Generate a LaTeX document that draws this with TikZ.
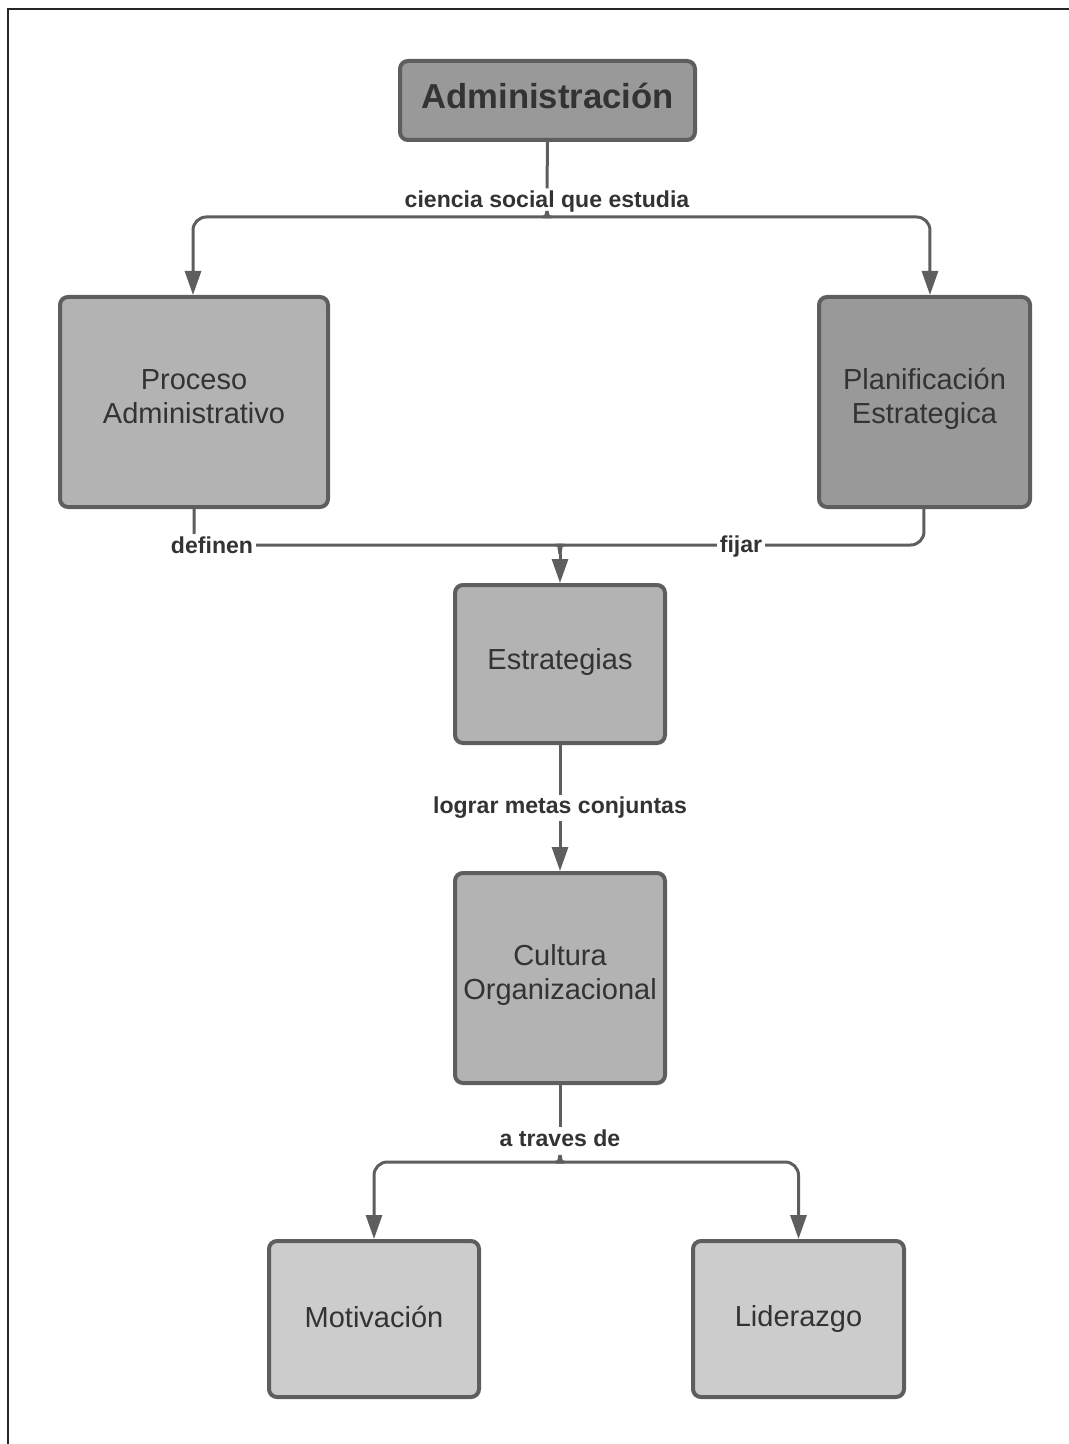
\documentclass[tikz,border=0pt]{standalone}
\usepackage{fontspec}
\setmainfont{Liberation Sans}
\usetikzlibrary{arrows.meta}
\definecolor{edgec}{HTML}{5E5E5E}
\definecolor{txt}{HTML}{333333}
\definecolor{fillA}{HTML}{999999}
\definecolor{fillB}{HTML}{B3B3B3}
\definecolor{fillC}{HTML}{CCCCCC}
\begin{document}
\begin{tikzpicture}[x=0.75pt,y=-0.75pt,
  box/.style={draw=edgec, line width=3pt, rounded corners=6pt, text=txt, align=center,
    font=\fontsize{21.75}{25.5}\selectfont, inner sep=0pt},
  conn/.style={draw=edgec, line width=2.25pt},
  tip/.style={-{Triangle[length=18pt,width=12pt]}},
  lbl/.style={fill=white, text=txt, font=\bfseries\fontsize{17.3}{20}\selectfont, inner sep=2pt}]
\useasboundingbox (0,0) rectangle (1069,1444);
\draw[line width=1.5pt, black!85] (7.5,1444) -- (7.5,9) -- (1069,9);

\node[box, fill=fillA, minimum width=221.25pt, minimum height=59.25pt, text depth=7.5pt,
  font=\bfseries\fontsize{26}{30}\selectfont] (adm) at (547.5,100.5) {Administración};
\node[box, fill=fillB, minimum width=201pt, minimum height=157.5pt, text depth=7.5pt] (proc) at (194,402) {Proceso\\Administrativo};
\node[box, fill=fillA, minimum width=158.25pt, minimum height=157.5pt, text depth=9.75pt] (plan) at (924.5,402) {Planificación\\Estrategica};
\node[box, fill=fillB, minimum width=157.5pt, minimum height=118.5pt, text depth=7.5pt] (estr) at (560,664) {Estrategias};
\node[box, fill=fillB, minimum width=157.5pt, minimum height=157.5pt, text depth=9pt] (cult) at (560,978) {Cultura\\Organizacional};
\node[box, fill=fillC, minimum width=157.5pt, minimum height=117pt, text depth=3pt] (moti) at (374,1319) {Motivación};
\node[box, fill=fillC, minimum width=158.25pt, minimum height=117pt, text depth=5.25pt] (lide) at (798.5,1319) {Liderazgo};

% Administracion split
\node[lbl] (l1) at (547,202) {ciencia social que estudia};
\draw[conn] (adm.south) -- (l1.north);
\coordinate (b1) at (547,211);
\draw[conn,tip,rounded corners=10pt] (b1) to[out=-90,in=0] (538,217) -| ([xshift=-0.75pt]proc.north);
\draw[conn,tip,rounded corners=10pt] (b1) to[out=-90,in=180] (556,217) -| ([xshift=4.1pt]plan.north);

% to Estrategias
\coordinate (b2) at (560,554);
\draw[conn,rounded corners=10pt] (proc.south) |- (551,545) to[out=0,in=90] (b2);
\draw[conn,rounded corners=10pt] ([xshift=-0.4pt]plan.south) |- (569,545) to[out=180,in=90] (b2);
\draw[conn,tip] (b2) -- (estr.north);
\node[lbl] at (212,545) {definen};
\node[lbl] at (741,547) {fijar};

% Estrategias -> Cultura
\draw[conn,tip] (estr.south) -- (cult.north);
\node[lbl] at (560,808) {lograr metas conjuntas};

% Cultura split
\node[lbl] (l5) at (560,1138) {a traves de};
\draw[conn] (cult.south) -- (l5.north);
\coordinate (b3) at (560,1155);
\draw[conn,tip,rounded corners=10pt] (b3) to[out=-90,in=0] (551,1162) -| (moti.north);
\draw[conn,tip,rounded corners=10pt] (b3) to[out=-90,in=180] (569,1162) -| (lide.north);
\end{tikzpicture}
\end{document}
